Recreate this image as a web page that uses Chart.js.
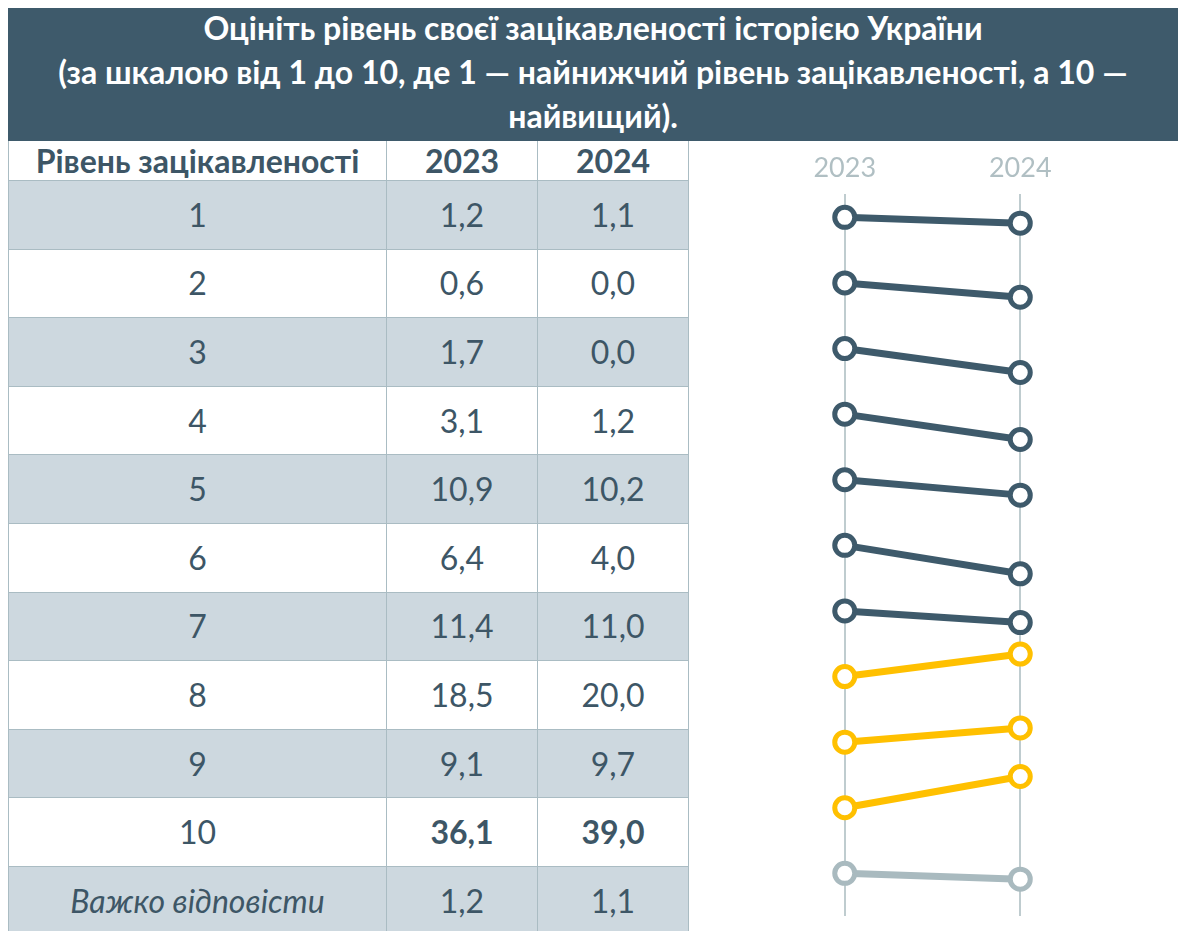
<!DOCTYPE html>
<html>
<head>
<meta charset="utf-8">
<script src="https://cdn.jsdelivr.net/npm/chart.js@4"></script>
<style>
  body { margin: 0; background: #fff; font-family: Lato, "Noto Sans", sans-serif; }
  #wrap { position: relative; width: 1185px; height: 931px; overflow: hidden; }
  #title {
    position: absolute; left: 8px; top: 8px; width: 1170px; height: 133px;
    background: #3e5a6b; color: #fff; font-weight: bold; font-size: 32px;
    line-height: 44px; text-align: center; box-sizing: border-box; margin-top: 0; padding-top: 0;
  }
  #title div { position: relative; top: -2px; }
  #tbl {
    position: absolute; left: 8px; top: 141px; border-collapse: collapse;
    table-layout: fixed; color: #3d5666; font-size: 32px;
  }
  #tbl td, #tbl th { border: 1px solid #aabcc3; text-align: center; padding: 0; line-height: 1; }
  #tbl th { height: 39px; font-weight: bold; border-top: none; }
  #tbl td { height: 67.6px; }
  #tbl tr.shade td { background: #cdd8df; }
  #tbl td.it { font-style: italic; }
  #tbl td.b { font-weight: bold; }
  #chartBox { position: absolute; left: 690px; top: 142px; width: 488px; height: 789px; }
</style>
</head>
<body>
<div id="wrap">
  <div id="title"><div>Оцініть рівень своєї зацікавленості історією України<br>(за шкалою від 1 до 10, де 1 — найнижчий рівень зацікавленості, а 10 —<br>найвищий).</div></div>
  <table id="tbl">
    <colgroup><col style="width:378px"><col style="width:151px"><col style="width:151px"></colgroup>
    <thead><tr><th>Рівень зацікавленості</th><th>2023</th><th>2024</th></tr></thead>
    <tbody id="tbody"></tbody>
  </table>
  <div id="chartBox"><canvas id="slope" width="488" height="789"></canvas></div>
</div>
<script>
const levels = ["1", "2", "3", "4", "5", "6", "7", "8", "9", "10", "Важко відповісти"];
const years = ["2023", "2024"];
const values2023 = [1.2, 0.6, 1.7, 3.1, 10.9, 6.4, 11.4, 18.5, 9.1, 36.1, 1.2];
const values2024 = [1.1, 0.0, 0.0, 1.2, 10.2, 4.0, 11.0, 20.0, 9.7, 39.0, 1.1];

const fmt = v => v.toFixed(1).replace(".", ",");

// table
const tbody = document.getElementById("tbody");
levels.forEach((lv, i) => {
  const tr = document.createElement("tr");
  if (i % 2 === 0) tr.className = "shade";
  const last = i === levels.length - 1;
  const bold = lv === "10";
  tr.innerHTML = `
    <td class="${last ? "it" : ""}">${lv}</td>
    <td class="${bold ? "b" : ""}">${fmt(values2023[i])}</td>
    <td class="${bold ? "b" : ""}">${fmt(values2024[i])}</td>`;
  tbody.appendChild(tr);
});

// slope chart: each level sits on its own row, the tilt shows the change
const colorFor = i => i === levels.length - 1 ? "#a9babf" : (i >= 7 ? "#ffc000" : "#3e5a6b");

const datasets = levels.map((lv, i) => {
  const change = values2024[i] - values2023[i];
  const tilt = Math.sign(change) * Math.sqrt(Math.abs(change)) * 0.28;
  const y0 = i - 0.15;
  const c = colorFor(i);
  return {
    label: lv,
    data: [y0, y0 - tilt],
    borderColor: c,
    pointBorderColor: c,
    pointBackgroundColor: "#fff",
    borderWidth: 7,
    pointRadius: 10,
    pointBorderWidth: 5,
    clip: false
  };
});

new Chart(document.getElementById("slope"), {
  type: "line",
  data: { labels: years, datasets: datasets },
  options: {
    responsive: false,
    animation: false,
    layout: { padding: { left: 67, right: 70, top: 0, bottom: 0 } },
    plugins: { legend: { display: false }, tooltip: { enabled: false } },
    scales: {
      x: {
        position: "top",
        offset: true,
        border: { display: false },
        grid: { offset: false, color: "#bfcccf", lineWidth: 2, drawTicks: false },
        ticks: { color: "#b0bfc3", font: { family: "Lato", size: 27 }, padding: 10 }
      },
      y: {
        display: false,
        reverse: true,
        min: -0.5,
        max: 10.5
      }
    }
  }
});
</script>
</body>
</html>
